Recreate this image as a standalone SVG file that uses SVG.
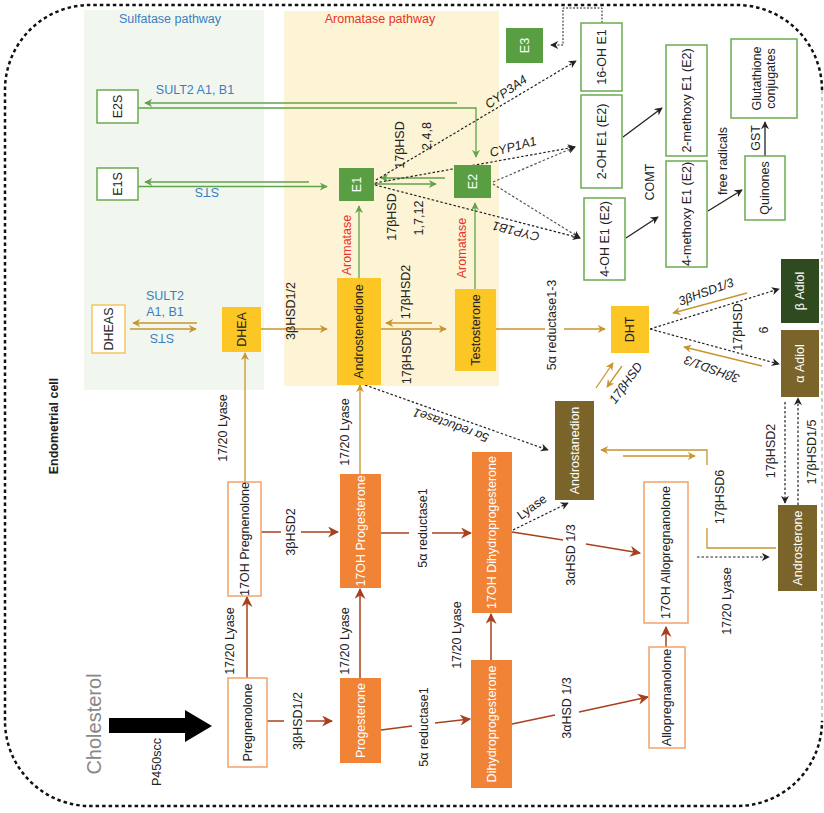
<svg xmlns="http://www.w3.org/2000/svg" width="824" height="813" viewBox="0 0 824 813">
<style>
text{font-family:"Liberation Sans",Arial,sans-serif;font-size:12.5px;fill:#222;text-anchor:middle;dominant-baseline:central}
.w{fill:#fff}
.bl{fill:#3b7dc4}
.rd{fill:#e8312a}
.it{font-style:italic}
.nw{fill:#fff;stroke:#6aab50;stroke-width:1.5}
.ng{fill:#5a9e44}
.ny{fill:#fcc625}
.nyo{fill:#fff;stroke:#f5c563;stroke-width:1.5}
.no{fill:#f08336}
.nwo{fill:#fff;stroke:#f4a26a;stroke-width:1.5}
.nol{fill:#7a6429}
.ndg{fill:#2f4a1f}
.cg{fill:none;stroke:#5fa34a;stroke-width:1.3;marker-end:url(#ag)}
.cy{fill:none;stroke:#c8952e;stroke-width:1.3;marker-end:url(#ay)}
.cr{fill:none;stroke:#a8401e;stroke-width:1.5;marker-end:url(#ar)}
.ck{fill:none;stroke:#222;stroke-width:1.2;stroke-dasharray:2.5,2;marker-end:url(#ak)}
.cs{fill:none;stroke:#222;stroke-width:1.3;marker-end:url(#ak)}
.nm{marker-end:none}
</style>
<defs>
<marker id="ag" viewBox="0 0 10 10" refX="9" refY="5" markerWidth="8" markerHeight="8" orient="auto" markerUnits="userSpaceOnUse"><path d="M0,0 L10,5 L0,10 L3,5 z" fill="#5fa34a"/></marker>
<marker id="ay" viewBox="0 0 10 10" refX="9" refY="5" markerWidth="8" markerHeight="8" orient="auto" markerUnits="userSpaceOnUse"><path d="M0,0 L10,5 L0,10 L3,5 z" fill="#c8952e"/></marker>
<marker id="ar" viewBox="0 0 10 10" refX="9" refY="5" markerWidth="11" markerHeight="11" orient="auto" markerUnits="userSpaceOnUse"><path d="M0,0 L10,5 L0,10 L3,5 z" fill="#a8401e"/></marker>
<marker id="ak" viewBox="0 0 10 10" refX="9" refY="5" markerWidth="8" markerHeight="8" orient="auto" markerUnits="userSpaceOnUse"><path d="M0,0 L10,5 L0,10 L3,5 z" fill="#222"/></marker>
</defs>

<rect x="84" y="10" width="180" height="380" fill="#f1f7ee"/>
<rect x="284" y="11" width="215" height="375" fill="#fdf4d5"/>
<text class="bl" x="170" y="19">Sulfatase pathway</text>
<text class="rd" x="380" y="19">Aromatase pathway</text>

<path d="M822,90 A85,85 0 0 0 737,5 H90 A85,85 0 0 0 5,90 V721 A85,85 0 0 0 90,806 H737 A85,85 0 0 0 822,721" fill="none" stroke="#111" stroke-width="2.5" stroke-dasharray="3.5,3"/>
<path d="M822,90 V721" fill="none" stroke="#999" stroke-width="1" stroke-dasharray="4,3"/>

<g id="connectors">
<path class="cg" d="M457,103 H145"/>
<path class="cg" d="M138,108 H476 V157"/>
<path class="cg" d="M309,182 H145"/>
<path class="cg" d="M138,186.5 H327"/>
<path class="cg" d="M445,178 H381"/>
<path class="cg" d="M374,184 H436"/>
<path class="cg" d="M359,278 V206"/>
<path class="cg" d="M475,289 V203"/>

<path class="cy" d="M197,323 H133"/>
<path class="cy" d="M130,329 H196"/>
<path class="cy" d="M245,482 V353"/>
<path class="cy" d="M261,329 H327"/>
<path class="cy" d="M432,323 H386"/>
<path class="cy" d="M381,329 H446"/>
<path class="cy nm" d="M496,329 H545"/>
<path class="cy" d="M564,329 H605"/>
<path class="cy" d="M360,474 V385"/>
<path class="cy" d="M747,293 L673,313"/>
<path class="cy" d="M762,366 L684,347"/>
<path class="cy" d="M596,388 L613,363"/>
<path class="cy" d="M622,366 L607,387"/>
<path class="cy nm" d="M776,548 H707 V528"/>
<path class="cy" d="M707,465 V450 H601"/>
<path class="cy" d="M623,456 H695"/>

<path class="cr" d="M247,678 V597"/>
<path class="cr nm" d="M261,532 H281"/>
<path class="cr" d="M301,532 H338"/>
<path class="cr nm" d="M267,721 H284"/>
<path class="cr" d="M306,721 H332"/>
<path class="cr" d="M360,678 V589"/>
<path class="cr nm" d="M381,533 H409"/>
<path class="cr" d="M432,533 H471"/>
<path class="cr nm" d="M381,730 L412,726"/>
<path class="cr" d="M435,723 L470,719"/>
<path class="cr" d="M491,660 V614"/>
<path class="cr nm" d="M512,724 L555,715"/>
<path class="cr" d="M579,712 L648,697"/>
<path class="cr nm" d="M512,532 L563,540"/>
<path class="cr" d="M586,544 L640,553"/>
<path class="cr" d="M666,647 V627"/>

<path class="ck" d="M365,385 L548,450"/>
<path class="ck" d="M513,530 L568,503"/>
<path class="ck" d="M650,329 L779,289"/>
<path class="ck" d="M650,329 L779,364"/>
<path class="ck" d="M785,402 V503"/>
<path class="ck" d="M798,505 V398"/>
<path class="ck" d="M697,557 H769"/>
<path class="ck" d="M376,180 L576,61"/>
<path class="ck" d="M375,183 L575,147"/>
<path class="ck" d="M375,185 L580,238"/>
<path class="ck" style="stroke:#555" d="M493,182 L575,147"/>
<path class="ck" style="stroke:#555" d="M493,184 L580,238"/>
<path class="ck" style="stroke-width:1;stroke-dasharray:2,1.5" d="M602,23 V8 H563 V45 H551"/>

<path class="cs" d="M623,137 L662,108"/>
<path class="cs" d="M626,238 L658,217"/>
<path class="cs" d="M708,211 L742,190"/>
<path class="cs" d="M765,156 V122"/>

<path d="M109,718 H185 V710 L212,726 L185,742 V733 H109 Z" fill="#000"/>
</g>

<g id="labels">
<text class="bl" x="195" y="90">SULT2 A1, B1</text>
<text class="bl" transform="translate(207,192) rotate(180)">STS</text>
<text class="bl" x="165" y="296">SULT2</text>
<text class="bl" x="165" y="312">A1, B1</text>
<text class="bl" transform="translate(162,338) rotate(180)">STS</text>
<text transform="translate(223,428) rotate(-90)">17/20 Lyase</text>
<text transform="translate(291,311) rotate(-90)">3βHSD1/2</text>
<text transform="translate(406,292) rotate(-90)">17βHSD2</text>
<text transform="translate(407,357) rotate(-90)">17βHSD5</text>
<text class="rd" transform="translate(347,245) rotate(-90)">Aromatase</text>
<text class="rd" transform="translate(462,248) rotate(-90)">Aromatase</text>
<text transform="translate(400,145) rotate(-90)">17βHSD</text>
<text transform="translate(427,136) rotate(-90)">2,4,8</text>
<text transform="translate(392,217) rotate(-90)">17βHSD</text>
<text transform="translate(419,218) rotate(-90)">1,7,12</text>
<text class="it" transform="translate(506,92) rotate(-35)">CYP3A4</text>
<text class="it" transform="translate(513,147) rotate(-15)">CYP1A1</text>
<text class="it" transform="translate(516,231) rotate(194)">CYP1B1</text>
<text transform="translate(650,182) rotate(-90)">COMT</text>
<text transform="translate(723,161) rotate(-90)">free radicals</text>
<text transform="translate(756,138) rotate(-90)">GST</text>
<text transform="translate(552,325) rotate(-90)">5α reductase1-3</text>
<text class="it" transform="translate(706,292) rotate(-20)">3βHSD1/3</text>
<text class="it" transform="translate(712,369) rotate(200)">3βHSD1/3</text>
<text transform="translate(738,327) rotate(-90)">17βHSD</text>
<text transform="translate(764,330) rotate(-90)">6</text>
<text class="it" transform="translate(626,383) rotate(-54)">17βHSD</text>
<text class="it" transform="translate(451,425) rotate(199.6)">5α reductase1</text>
<text transform="translate(532,507) rotate(-36)">Lyase</text>
<text transform="translate(720,497) rotate(-90)">17βHSD6</text>
<text transform="translate(771,451) rotate(-90)">17βHSD2</text>
<text transform="translate(812,452) rotate(-90)">17βHSD1/5</text>
<text transform="translate(727,601) rotate(-90)">17/20 Lyase</text>
<text transform="translate(571,555) rotate(-90)">3αHSD 1/3</text>
<text transform="translate(567,708) rotate(-90)">3αHSD 1/3</text>
<text transform="translate(457,635) rotate(-90)">17/20 Lyase</text>
<text transform="translate(423,528) rotate(-90)">5α reductase1</text>
<text transform="translate(424,727) rotate(-90)">5α reductase1</text>
<text transform="translate(345,641) rotate(-90)">17/20 Lyase</text>
<text transform="translate(345,432) rotate(-90)">17/20 Lyase</text>
<text transform="translate(291,532) rotate(-90)">3βHSD2</text>
<text transform="translate(298,721) rotate(-90)">3βHSD1/2</text>
<text transform="translate(230,641) rotate(-90)">17/20 Lyase</text>
<text transform="translate(157,762) rotate(-90)">P450scc</text>
<text transform="translate(94,724) rotate(-90)" style="font-size:20px;fill:#888">Cholesterol</text>
<text transform="translate(54,426) rotate(-90)" style="font-size:12.5px;font-weight:bold">Endometrial cell</text>
</g>

<g id="E2S"><rect class="nw" x="97" y="90" width="41" height="33"/><text transform="translate(117.5,106.5) rotate(-90)">E2S</text></g>
<g id="E1S"><rect class="nw" x="97" y="168" width="41" height="32"/><text transform="translate(117.5,184) rotate(-90)">E1S</text></g>
<g id="DHEAS"><rect class="nyo" x="92" y="305" width="33" height="48"/><text transform="translate(108.5,329) rotate(-90)">DHEAS</text></g>
<g id="DHEA"><rect class="ny" x="222" y="307" width="39" height="45"/><text transform="translate(241.5,329.5) rotate(-90)">DHEA</text></g>
<g id="E1"><rect class="ng" x="339" y="168" width="35" height="33"/><text class="w" transform="translate(356.5,184.5) rotate(-90)">E1</text></g>
<g id="E2"><rect class="ng" x="454" y="165" width="37" height="33"/><text class="w" transform="translate(472.5,181.5) rotate(-90)">E2</text></g>
<g id="E3"><rect class="ng" x="506" y="28" width="37" height="35"/><text class="w" transform="translate(524.5,45.5) rotate(-90)">E3</text></g>
<g id="Androstenedione"><rect class="ny" x="337" y="278" width="44" height="107"/><text transform="translate(359,331.5) rotate(-90)">Androstenedione</text></g>
<g id="Testosterone"><rect class="ny" x="455" y="289" width="41" height="82"/><text transform="translate(475.5,330) rotate(-90)">Testosterone</text></g>
<g id="OH16E1"><rect class="nw" x="581" y="23" width="41" height="68"/><text transform="translate(601.5,57) rotate(-90)">16-OH E1</text></g>
<g id="OH2E1"><rect class="nw" x="581" y="95" width="41" height="93"/><text transform="translate(601.5,141.5) rotate(-90)">2-OH E1 (E2)</text></g>
<g id="OH4E1"><rect class="nw" x="584" y="198" width="41" height="82"/><text transform="translate(604.5,239) rotate(-90)">4-OH E1 (E2)</text></g>
<g id="methoxy2"><rect class="nw" x="666" y="45" width="41" height="111"/><text transform="translate(686.5,100.5) rotate(-90)">2-methoxy E1 (E2)</text></g>
<g id="methoxy4"><rect class="nw" x="666" y="161" width="41" height="106"/><text transform="translate(686.5,214) rotate(-90)">4-methoxy E1 (E2)</text></g>
<g id="Glutathione"><rect class="nw" x="731" y="39" width="66" height="79"/><text transform="translate(764,78.5) rotate(-90)"><tspan x="0" y="-7">Glutathione</tspan><tspan x="0" y="7">conjugates</tspan></text></g>
<g id="Quinones"><rect class="nw" x="745" y="156" width="40" height="64"/><text transform="translate(765,188) rotate(-90)">Quinones</text></g>
<g id="DHT"><rect class="ny" x="611" y="306" width="38" height="47"/><text transform="translate(630,329.5) rotate(-90)">DHT</text></g>
<g id="bAdiol"><rect class="ndg" x="781" y="259" width="38" height="64"/><text class="w" transform="translate(800,291) rotate(-90)">β Adiol</text></g>
<g id="aAdiol"><rect class="nol" x="781" y="330" width="38" height="67"/><text class="w" transform="translate(800,363.5) rotate(-90)">α Adiol</text></g>
<g id="Androstanedion"><rect class="nol" x="555" y="401" width="39" height="99"/><text class="w" transform="translate(574.5,450.5) rotate(-90)">Androstanedion</text></g>
<g id="Androsterone"><rect class="nol" x="778" y="505" width="39" height="86"/><text class="w" transform="translate(797.5,548) rotate(-90)">Androsterone</text></g>
<g id="OH17Allopregnanolone"><rect class="nwo" x="644" y="482" width="44" height="141"/><text transform="translate(666,552.5) rotate(-90)">17OH Allopregnanolone</text></g>
<g id="Allopregnanolone"><rect class="nwo" x="649" y="647" width="36" height="101"/><text transform="translate(667,697.5) rotate(-90)">Allopregnanolone</text></g>
<g id="Pregnenolone"><rect class="nwo" x="228" y="678" width="39" height="89"/><text transform="translate(247.5,722.5) rotate(-90)">Pregnenolone</text></g>
<g id="OH17Pregnenolone"><rect class="nwo" x="228" y="482" width="33" height="114"/><text transform="translate(244.5,539) rotate(-90)">17OH Pregnenolone</text></g>
<g id="OH17Progesterone"><rect class="no" x="340" y="474" width="41" height="114"/><text class="w" transform="translate(360.5,531) rotate(-90)">17OH Progesterone</text></g>
<g id="Progesterone"><rect class="no" x="340" y="678" width="41" height="85"/><text class="w" transform="translate(360.5,720.5) rotate(-90)">Progesterone</text></g>
<g id="OH17Dihydroprogesterone"><rect class="no" x="472" y="452" width="40" height="161"/><text class="w" transform="translate(492,532.5) rotate(-90)">17OH Dihydroprogesterone</text></g>
<g id="Dihydroprogesterone"><rect class="no" x="471" y="660" width="41" height="128"/><text class="w" transform="translate(491.5,724) rotate(-90)">Dihydroprogesterone</text></g>
</svg>
